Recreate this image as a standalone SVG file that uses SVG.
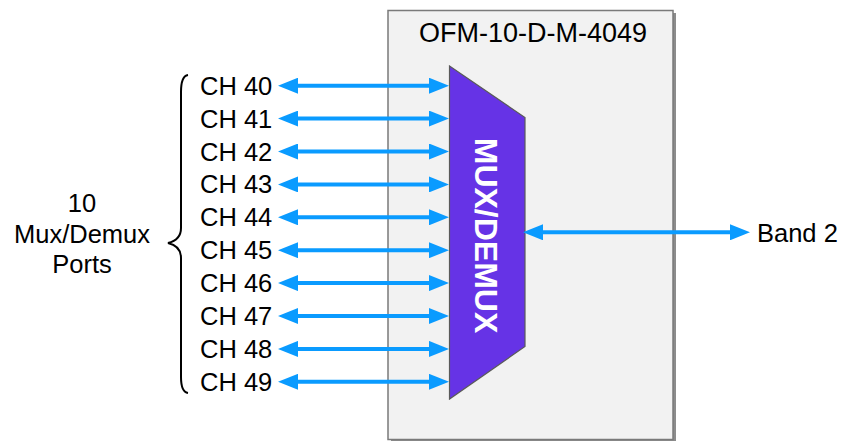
<svg xmlns="http://www.w3.org/2000/svg" width="841" height="441" viewBox="0 0 841 441">
<defs>
<marker id="ah" markerUnits="userSpaceOnUse" markerWidth="20" markerHeight="16" refX="2" refY="8" orient="auto-start-reverse" viewBox="0 0 20 16">
<path d="M0,0 L20,8 L0,16 z" fill="#0a9bff"/>
</marker>
<style>
.t{font-family:"Liberation Sans",Arial,sans-serif;font-size:25.5px;fill:#000}
.c{stroke:#0a9bff;stroke-width:4;fill:none;marker-start:url(#ah);marker-end:url(#ah)}
</style>
</defs>
<rect width="841" height="441" fill="#fff"/>
<g id="module">
<rect x="391" y="13" width="285" height="430" fill="#8c8c8c"/>
<rect x="388" y="10.5" width="285" height="429" fill="#f2f2f2" stroke="#7a7a7a" stroke-width="1.5"/>
<text class="t" x="533" y="42" text-anchor="middle" style="font-size:27px">OFM-10-D-M-4049</text>
</g>
<g id="mux">
<polygon points="449.5,66 525,117.5 525,346.5 449.5,399" fill="#6633e6" stroke="#5a5a5a" stroke-width="1.2"/>
<text transform="translate(486,235.5) rotate(90)" y="11.5" text-anchor="middle" style="font-family:'Liberation Sans',Arial,sans-serif;font-size:32px;font-weight:bold;fill:#fff">MUX/DEMUX</text>
</g>
<g id="ports-label">
<path d="M188,75 Q181,76 181,92 L181,228 Q181,240 168,243 Q181,246 181,258 L181,377 Q181,392 188,393" fill="none" stroke="#000" stroke-width="2"/>
<text class="t" text-anchor="middle"><tspan x="82" y="212">10</tspan><tspan x="82" y="243">Mux/Demux</tspan><tspan x="82" y="273">Ports</tspan></text>
</g>
<g id="channels">
<text class="t" x="200" y="94.7">CH 40</text>
<text class="t" x="200" y="127.6">CH 41</text>
<text class="t" x="200" y="160.5">CH 42</text>
<text class="t" x="200" y="193.4">CH 43</text>
<text class="t" x="200" y="226.3">CH 44</text>
<text class="t" x="200" y="259.2">CH 45</text>
<text class="t" x="200" y="292.1">CH 46</text>
<text class="t" x="200" y="325">CH 47</text>
<text class="t" x="200" y="357.9">CH 48</text>
<text class="t" x="200" y="390.8">CH 49</text>
</g>
<g id="band2">
<text class="t" x="757" y="241.7">Band 2</text>
</g>
<g id="connectors">
<line class="c" x1="296" y1="85.7" x2="431" y2="85.7"/>
<line class="c" x1="296" y1="118.6" x2="431" y2="118.6"/>
<line class="c" x1="296" y1="151.5" x2="431" y2="151.5"/>
<line class="c" x1="296" y1="184.4" x2="431" y2="184.4"/>
<line class="c" x1="296" y1="217.3" x2="431" y2="217.3"/>
<line class="c" x1="296" y1="250.2" x2="431" y2="250.2"/>
<line class="c" x1="296" y1="283.1" x2="431" y2="283.1"/>
<line class="c" x1="296" y1="316" x2="431" y2="316"/>
<line class="c" x1="296" y1="348.9" x2="431" y2="348.9"/>
<line class="c" x1="296" y1="381.8" x2="431" y2="381.8"/>
<line class="c" x1="541" y1="232.3" x2="732" y2="232.3"/>
</g>
</svg>
